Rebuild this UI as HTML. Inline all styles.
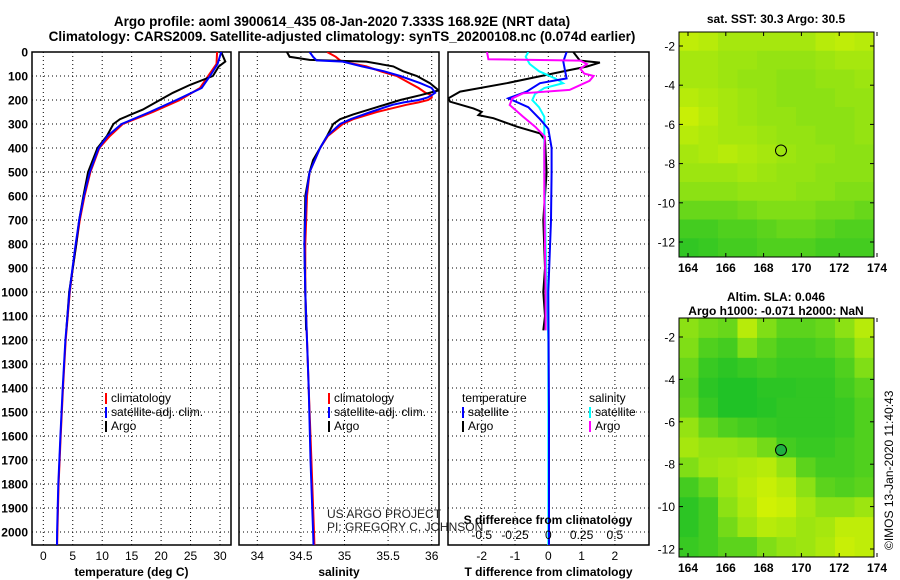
<!DOCTYPE html>
<html><head><meta charset="utf-8"><style>
body{margin:0;background:#fff}
svg{display:block;font-family:"Liberation Sans",sans-serif}
.b{font-weight:bold}
</style></head><body>
<svg id="c" width="900" height="580" viewBox="0 0 900 580">
<text x="342" y="26" class="b" font-size="13.5" text-anchor="middle">Argo profile: aoml 3900614_435 08-Jan-2020 7.333S 168.92E (NRT data)</text>
<text x="342" y="41" class="b" font-size="13.5" text-anchor="middle">Climatology: CARS2009. Satellite-adjusted climatology: synTS_20200108.nc (0.074d earlier)</text>
<g id="g"></g>
</svg>
<script>
// ---- data ----
const depthTicks=[0,100,200,300,400,500,600,700,800,900,1000,1100,1200,1300,1400,1500,1600,1700,1800,1900,2000];
const tempTicks=[0,5,10,15,20,25,30];
const salTicks=[34,34.5,35,35.5,36];
const tdiffTicks=[-2,-1,0,1,2];
const sdiffTicks=[-0.5,-0.25,0,0.25,0.5];
const lonTicks=[164,166,168,170,172,174];
const latTicks=[-2,-4,-6,-8,-10,-12];

const climDepth=[0,50,100,150,200,250,300,350,400,500,600,700,800,900,1000,1200,1400,1600,1800,2000,2120];
const climTemp=[29.5,29.4,28.0,26.6,23.2,18.6,13.5,11.3,9.5,8.0,7.0,6.2,5.6,5.0,4.5,3.8,3.35,2.95,2.6,2.4,2.3];
const satTemp=[30.2,29.6,28.3,26.9,22.6,18.1,13.3,10.9,9.4,7.9,6.9,6.1,5.5,4.95,4.45,3.75,3.3,2.9,2.55,2.35,2.3];
const argoDepth=[0,40,60,100,137,170,200,240,280,300,350,400,500,600,700,800,900,1000,1100,1160];
const argoTemp=[30.2,30.9,29.8,28.8,24.9,22.0,19.8,16.9,13.0,11.9,10.8,9.2,7.6,6.8,6.1,5.6,5.0,4.4,4.1,3.9];

const salDepth=[0,20,35,40,60,80,100,130,150,170,180,190,200,210,220,250,280,300,350,400,500,600,800,1000,1400,1700,2000,2120];
const climSal=[34.8,34.9,34.95,34.98,35.25,35.41,35.6,35.75,35.85,35.93,36.0,36.0,35.96,35.85,35.71,35.37,35.1,34.98,34.81,34.72,34.6,34.57,34.55,34.55,34.59,34.62,34.65,34.66];
const satSal=[34.6,34.64,34.68,34.98,35.2,35.45,35.64,35.87,36.0,36.04,36.0,35.95,35.85,35.68,35.55,35.3,35.07,34.95,34.8,34.72,34.6,34.56,34.54,34.55,34.59,34.61,34.64,34.65];
const argoSalDepth=[0,20,33,40,60,80,100,130,160,180,200,230,260,280,300,350,400,450,500,600,800,1000,1160];
const argoSal=[34.34,34.37,34.6,35.25,35.56,35.67,35.83,35.98,36.08,35.87,35.64,35.37,35.1,34.95,34.87,34.8,34.72,34.64,34.6,34.55,34.54,34.55,34.56];

const tdArgoDepth=[0,36,44,61,75,130,165,193,207,235,249,263,276,311,339,367,500,700,900,1000,1100,1160];
const tdArgo=[0.75,0.95,1.55,1.15,0.65,-1.25,-2.65,-3.0,-2.95,-2.25,-2.0,-2.1,-1.65,-0.95,-0.25,-0.1,-0.05,-0.15,-0.1,-0.15,-0.1,-0.15];
const tdSatDepth=[0,40,75,110,130,165,193,230,280,320,400,500,700,1000,1500,2000,2120];
const tdSat=[0.55,0.45,0.5,0.55,-0.25,-0.65,-1.2,-0.6,-0.25,0.0,0.1,0.1,0.08,0.0,0.02,0.02,0.02];
const sdArgoDepth=[0,30,36,50,70,90,100,120,158,172,193,221,269,311,353,400,600,1000,1160];
const sdArgo=[-0.46,-0.45,0.24,0.29,0.24,0.27,0.34,0.31,0.16,-0.19,-0.27,-0.29,-0.19,-0.1,-0.025,-0.03,-0.03,-0.02,-0.02];
const sdSatDepth=[0,20,50,80,110,130,150,175,200,230,270,320,500,800,1200,2000,2120];
const sdSat=[-0.15,-0.17,-0.14,-0.07,0.05,0.11,-0.03,-0.1,-0.12,-0.07,-0.03,-0.03,-0.03,-0.02,0,0,0];

const sstGrid=[
[.8,.75,.65,.65,.65,.65,.65,.75,.8,.75],
[.65,.65,.6,.6,.55,.55,.55,.6,.65,.65],
[.65,.65,.6,.55,.55,.5,.5,.55,.55,.6],
[.75,.7,.65,.6,.55,.5,.5,.5,.55,.55],
[.85,.75,.65,.6,.55,.55,.5,.5,.5,.55],
[.75,.7,.65,.65,.6,.55,.55,.5,.5,.55],
[.65,.7,.75,.7,.65,.6,.55,.55,.5,.5],
[.6,.6,.6,.65,.6,.55,.55,.5,.5,.5],
[.5,.5,.5,.55,.55,.55,.5,.5,.45,.45],
[.35,.35,.35,.4,.45,.45,.45,.4,.4,.35],
[.2,.2,.25,.25,.3,.35,.35,.3,.25,.25],
[.12,.15,.2,.2,.25,.25,.25,.2,.2,.2]];
const slaGrid=[
[.5,.4,.35,.75,.45,.3,.3,.35,.5,.75],
[.45,.25,.2,.45,.3,.2,.2,.25,.35,.6],
[.35,.15,.1,.15,.2,.15,.15,.15,.25,.45],
[.3,.1,.05,.05,.1,.1,.12,.12,.2,.3],
[.35,.15,.05,.05,.08,.12,.12,.12,.15,.25],
[.55,.35,.25,.2,.15,.12,.12,.12,.15,.25],
[.65,.55,.55,.5,.4,.2,.15,.15,.2,.25],
[.45,.6,.65,.7,.75,.55,.3,.2,.2,.25],
[.2,.35,.6,.75,.85,.75,.5,.3,.25,.3],
[.1,.2,.5,.7,.9,.85,.65,.5,.5,.6],
[.1,.2,.4,.6,.75,.7,.6,.65,.8,.8],
[.15,.2,.3,.3,.45,.55,.6,.7,.85,.8]];
const floatLon=[168.92];
const floatLat=[-7.333];

// ---- drawing ----
const NS='http://www.w3.org/2000/svg';
const G=document.getElementById('g');
function mk(tag,attrs,parent){const e=document.createElementNS(NS,tag);for(const k in attrs)e.setAttribute(k,attrs[k]);(parent||G).appendChild(e);return e;}
const yD=d=>52+d*0.24;
const PT=52,PB=545;
const xT=v=>43.3+v*5.89;
const xS=v=>257.3+(v-34)*87.2;
const xTD=v=>548.3+v*33.3;
const xSD=v=>548.3+v*133.2;

const defs=mk('defs',{});
[['p1',32,231],['p2',239,439],['p3',448,649]].forEach(([id,a,b])=>{const c=mk('clipPath',{id:'cp-'+id},defs);mk('rect',{x:a,y:PT,width:b-a,height:PB-PT},c);});

function panel(name,x0,x1,xf,ticks,title){
  const g=mk('g',{});
  
  
  depthTicks.forEach(d=>{const y=yD(d);mk('line',{x1:x0,x2:x1,y1:y,y2:y,stroke:'#000','stroke-width':1,'stroke-dasharray':'1,3'},g);});
  ticks.forEach(t=>{const x=xf(t);mk('line',{x1:x,x2:x,y1:PT,y2:PB,stroke:'#000','stroke-width':1,'stroke-dasharray':'1,3'},g);
    const tx=mk('text',{x:x,y:560,'font-size':12,'text-anchor':'middle'},g);
    
    
    tx.textContent=t;});
  mk('rect',{x:x0,y:PT,width:x1-x0,height:PB-PT,fill:'none',stroke:'#000','stroke-width':1.5},g);
  const tt=mk('text',{x:(x0+x1)/2,y:576,'font-size':12,'text-anchor':'middle',class:'b'},g);
  
  
  tt.textContent=title;
  return g;
}
function line(g,id,depths,vals,xf,color,name){
  const pts=depths.map((d,i)=>xf(vals[i]).toFixed(1)+','+yD(d).toFixed(1)).join(' ');
  const p=mk('polyline',{points:pts,fill:'none',stroke:color,'stroke-width':2,'clip-path':'url(#cp-'+id+')'},g);
  
  
}

depthTicks.forEach(d=>{const t=mk('text',{x:28,y:yD(d)+4.5,'font-size':12,'text-anchor':'end',class:'b'});
  
  
  t.textContent=d;});

const p1=panel('temperature-panel',32,231,xT,tempTicks,'temperature (deg C)');
line(p1,'p1',climDepth,climTemp,xT,'#f00','climatology-temp-line');
line(p1,'p1',argoDepth,argoTemp,xT,'#000','argo-temp-line');
line(p1,'p1',climDepth,satTemp,xT,'#00f','satellite-temp-line');

const p2=panel('salinity-panel',239,439,xS,salTicks,'salinity');
line(p2,'p2',salDepth,climSal,xS,'#f00','climatology-sal-line');
line(p2,'p2',argoSalDepth,argoSal,xS,'#000','argo-sal-line');
line(p2,'p2',salDepth,satSal,xS,'#00f','satellite-sal-line');

const p3=panel('difference-panel',448,649,xTD,tdiffTicks,'T difference from climatology');
line(p3,'p3',tdArgoDepth,tdArgo,xTD,'#000','argo-tdiff-line');
line(p3,'p3',sdSatDepth,sdSat,xSD,'#0ff','satellite-sdiff-line');
line(p3,'p3',tdSatDepth,tdSat,xTD,'#00f','satellite-tdiff-line');
line(p3,'p3',sdArgoDepth,sdArgo,xSD,'#f0f','argo-sdiff-line');
sdiffTicks.forEach(t=>{const tx=mk('text',{x:xSD(t),y:539,'font-size':12,'text-anchor':'middle'},p3);
  
  
  tx.textContent=t;});
{const tx=mk('text',{x:548,y:524,'font-size':12,'text-anchor':'middle',class:'b'},p3);
 
 
 tx.textContent='S difference from climatology';}

function legend(x,y,items,name){
  const g=mk('g',{});
  
  
  items.forEach(([c,t],i)=>{if(c)mk('rect',{x:x,y:y+i*14-9,width:2,height:11,fill:c},g);
    const tx=mk('text',{x:x+(c?6:0),y:y+i*14,'font-size':12},g);tx.textContent=t;});
}
legend(105,402,[['#f00','climatology'],['#00f','satellite-adj. clim.'],['#000','Argo']],'temperature-legend');
legend(328,402,[['#f00','climatology'],['#00f','satellite-adj. clim.'],['#000','Argo']],'salinity-legend');
legend(462,402,[[null,'temperature'],['#00f','satellite'],['#000','Argo']],'tdiff-legend');
legend(589,402,[[null,'salinity'],['#0ff','satellite'],['#f0f','Argo']],'sdiff-legend');
{const t=mk('text',{x:327,y:518,'font-size':12,fill:'#222'});
 
 
 t.textContent='US ARGO PROJECT';
 const t2=mk('text',{x:327,y:531,'font-size':12,fill:'#222'});
 
 
 t2.textContent='PI: GREGORY C. JOHNSON';}

function cmap(v){const s=[[0,[20,190,40]],[0.5,[140,225,20]],[1,[225,245,0]]];
  let a=s[0],b=s[1];if(v>0.5){a=s[1];b=s[2];}const f=(v-a[0])/(b[0]-a[0]);
  return 'rgb('+a[1].map((c,i)=>Math.round(c+(b[1][i]-c)*f)).join(',')+')';}
function map(name,x0,x1,y0,y1,grid,lonX,latY,circleFill){
  const g=mk('g',{});
  
  
  const rows=grid.length,cols=grid[0].length,cw=(x1-x0)/cols,ch=(y1-y0)/rows;
  grid.forEach((r,i)=>r.forEach((v,j)=>{const c=mk('rect',{x:x0+j*cw,y:y0+i*ch,width:cw+0.5,height:ch+0.5,fill:cmap(v)},g);
    
    }));
  mk('rect',{x:x0,y:y0,width:x1-x0,height:y1-y0,fill:'none',stroke:'#000','stroke-width':1},g);
  lonTicks.forEach(l=>{const x=lonX(l);mk('line',{x1:x,x2:x,y1:y1,y2:y1-4,stroke:'#000'},g);mk('line',{x1:x,x2:x,y1:y0,y2:y0+4,stroke:'#000'},g);
    const t=mk('text',{x:x,y:y1+15,'font-size':12,'text-anchor':'middle',class:'b'},g);t.textContent=l;});
  latTicks.forEach(l=>{const y=latY(l);mk('line',{x1:x0,x2:x0+4,y1:y,y2:y,stroke:'#000'},g);mk('line',{x1:x1,x2:x1-4,y1:y,y2:y,stroke:'#000'},g);
    const t=mk('text',{x:x0-4,y:y+4.5,'font-size':12,'text-anchor':'end'},g);t.textContent=l;});
  const c=mk('circle',{cx:lonX(floatLon[0]),cy:latY(floatLat[0]),r:5.5,fill:circleFill,stroke:'#000','stroke-width':1},g);
  
  
}
map('sst-map',679,874,32,257,sstGrid,l=>688+(l-164)*18.9,l=>46-(l+2)*19.6,'none');
map('sla-map',679,874,318,557,slaGrid,l=>688+(l-164)*18.9,l=>337-(l+2)*21.2,'#20b040');
{const t=mk('text',{x:776,y:23,'font-size':12,'text-anchor':'middle',class:'b'});
 
 
 t.textContent='sat. SST: 30.3 Argo: 30.5';
 const t2=mk('text',{x:776,y:301,'font-size':12,'text-anchor':'middle',class:'b'});
 
 
 t2.textContent='Altim. SLA: 0.046';
 const t3=mk('text',{x:776,y:315,'font-size':12,'text-anchor':'middle',class:'b'});
 
 
 t3.textContent='Argo h1000: -0.071 h2000: NaN';
 const t4=mk('text',{x:0,y:0,'font-size':12,transform:'translate(893,550) rotate(-90)'});
 
 
 t4.textContent='©IMOS 13-Jan-2020 11:40:43';}
</script>
</body></html>
